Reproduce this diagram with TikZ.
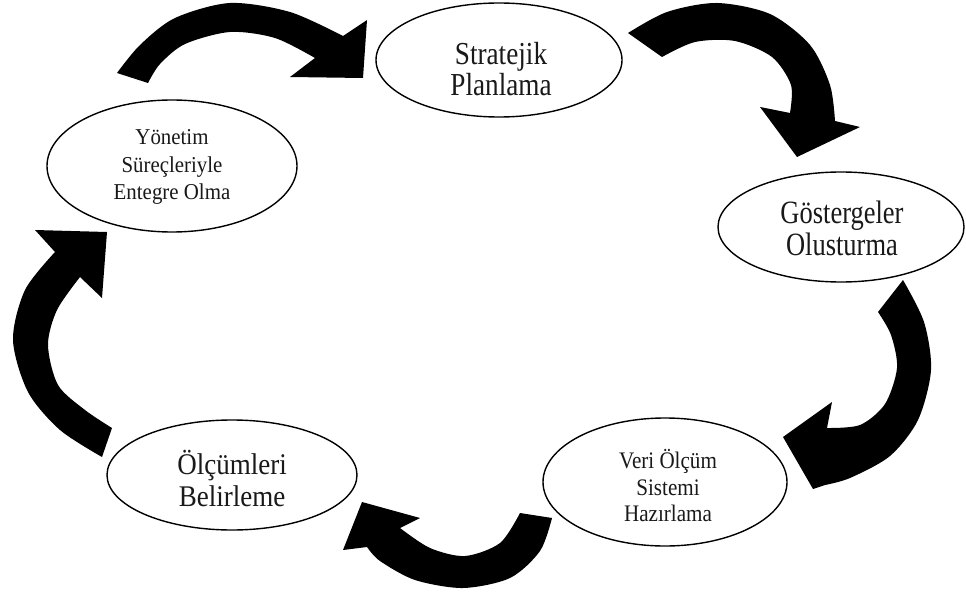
\documentclass[tikz,border=0pt]{standalone}
\usepackage{fontspec}
\usepackage{graphicx}
\setmainfont{Liberation Serif}
\usetikzlibrary{shapes.geometric}

% narrow multi-line label: #1 = horizontal squeeze, #2 = lines
\newcommand{\condtext}[2]{\scalebox{#1}[1]{\begin{tabular}{@{}c@{}}#2\end{tabular}}}

\tikzset{
  stage/.style={ellipse, draw=black, line width=1.4pt, fill=white, inner sep=0pt},
  lbl/.style={inner sep=0pt, anchor=center, text=black!90},
  bigarrow/.style={fill=black}
}

\begin{document}
\begin{tikzpicture}[x=1pt, y=-1pt]
\useasboundingbox[fill=white] (0,0) rectangle (966,596);

% the five stages
\node[stage, minimum width=246, minimum height=114] (plan) at (499,60) {};
\node[stage, minimum width=246, minimum height=110] (gost) at (841,227) {};
\node[stage, minimum width=244, minimum height=128] (veri) at (665,482) {};
\node[stage, minimum width=250, minimum height=110] (olc)  at (232,475) {};
\node[stage, minimum width=250, minimum height=132] (yon)  at (172,166) {};

% stage captions
\node[lbl, font=\fontsize{32}{27}\selectfont] (plan-t) at (501,73)
  {\condtext{0.85}{Stratejik\\Planlama}};
\node[lbl, font=\fontsize{32.5}{32.7}\selectfont] (gost-t) at (842,233)
  {\condtext{0.815}{Göstergeler\\Olusturma}};
\node[lbl, font=\fontsize{23.7}{26.7}\selectfont] (veri-t) at (668,489.6)
  {\condtext{0.89}{Veri Ölçüm\\Sistemi\\Hazırlama}};
\node[lbl, font=\fontsize{30}{31.7}\selectfont] (olc-t) at (232,482.8)
  {\condtext{0.9}{Ölçümleri\\Belirleme}};
\node[lbl, font=\fontsize{22.7}{27.5}\selectfont] (yon-t) at (172,167)
  {\condtext{0.92}{Yönetim\\Süreçleriyle\\Entegre Olma}};

% curved block arrows around the cycle
% Yönetim -> Stratejik
\fill[bigarrow] plot[smooth] coordinates {(117,73) (140,45) (175,18) (230,3) (290,12) (343,36)}
  -- (367,20) -- (363,78) -- (290,77)
  -- plot[smooth] coordinates {(315,58) (275,38) (230,32) (185,44) (160,64) (148,83)} -- cycle;
% Stratejik -> Göstergeler
\fill[bigarrow] plot[smooth] coordinates {(628,33) (667,12) (717,3) (770,14) (810,45) (830,85) (835,121)}
  -- (860,127) -- (797,157) -- (760,107)
  -- plot[smooth] coordinates {(790,113) (791,85) (772,57) (735,41) (695,42) (662,57)} -- cycle;
% Göstergeler -> Veri
\fill[bigarrow] plot[smooth] coordinates {(903,280) (924,322) (931,370) (918,420) (890,456) (850,478) (825,485)}
  -- (813,489) -- (783,437) -- (832,402)
  -- plot[smooth] coordinates {(827,428) (860,425) (885,404) (897,368) (891,335) (878,312)} -- cycle;
% Veri -> Ölçümleri
\fill[bigarrow] plot[smooth] coordinates {(552,518) (540,551) (510,578) (463,588) (415,580) (380,561) (367,547)}
  -- (343,550) -- (362,502) -- (420,518)
  -- plot[smooth] coordinates {(400,528) (430,548) (465,556) (500,543) (520,513)} -- cycle;
% Ölçümleri -> Yönetim
\fill[bigarrow] plot[smooth] coordinates {(102,457) (60,430) (28,392) (13,340) (25,290) (55,252)}
  -- (35,230) -- (107,232) -- (102,298)
  -- plot[smooth] coordinates {(80,277) (57,310) (48,345) (58,385) (85,410) (112,428)} -- cycle;
\end{tikzpicture}
\end{document}
